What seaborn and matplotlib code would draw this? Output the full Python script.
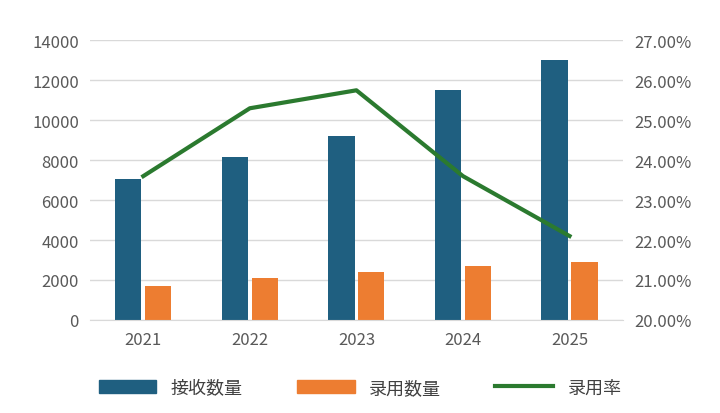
import matplotlib.pyplot as plt
import pandas as pd
import seaborn as sns
from matplotlib.ticker import FuncFormatter
from matplotlib.patches import Patch
from matplotlib.lines import Line2D

plt.rcParams['font.family'] = ['Noto Sans CJK SC', 'Noto Sans CJK JP', 'Noto Sans CJK TC', 'DejaVu Sans']

years = ['2021', '2022', '2023', '2024', '2025']
received = [7050, 8150, 9200, 11500, 13000]
accepted = [1680, 2080, 2380, 2720, 2900]
rate = [23.6, 25.3, 25.75, 23.6, 22.1]

blue, orange, green = '#1F5F80', '#ED7D31', '#2B7A2F'

df = pd.DataFrame({'year': years * 2,
                   'value': received + accepted,
                   'series': ['接收数量'] * 5 + ['录用数量'] * 5})

fig, ax = plt.subplots(figsize=(7.2, 4.14), dpi=100)
fig.subplots_adjust(left=0.125, right=0.865, top=0.90, bottom=0.225)

sns.barplot(data=df, x='year', y='value', hue='series', ax=ax,
            palette=[blue, orange], width=0.56, gap=0.12, saturation=1, legend=False)
ax.set_ylim(0, 14000)
ax.set_yticks(range(0, 14001, 2000))
ax.set_xlim(-0.5, 4.5)
ax.grid(axis='y', color='#d9d9d9', linewidth=1)
ax.set_axisbelow(True)
ax.set(xlabel='', ylabel='')
for s in ax.spines.values():
    s.set_visible(False)
ax.spines['bottom'].set_visible(True)
ax.spines['bottom'].set_color('#d9d9d9')
ax.tick_params(length=0, labelsize=12, colors='#595959', pad=8)

ax2 = ax.twinx()
sns.lineplot(x=list(range(5)), y=rate, ax=ax2, color=green, linewidth=3)
ax2.set_ylim(20, 27)
ax2.set_yticks(range(20, 28))
ax2.yaxis.set_major_formatter(FuncFormatter(lambda v, p: f'{v:.2f}%'))
for s in ax2.spines.values():
    s.set_visible(False)
ax2.tick_params(length=0, labelsize=12, colors='#595959', pad=8)

handles = [Patch(color=blue), Patch(color=orange), Line2D([], [], color=green, linewidth=3)]
fig.legend(handles, ['接收数量', '录用数量', '录用率'], loc='lower center', ncol=3,
           frameon=False, fontsize=13, labelcolor='#404040', handlelength=3.2,
           columnspacing=3, bbox_to_anchor=(0.5, 0.0))

fig.savefig('out.png')
